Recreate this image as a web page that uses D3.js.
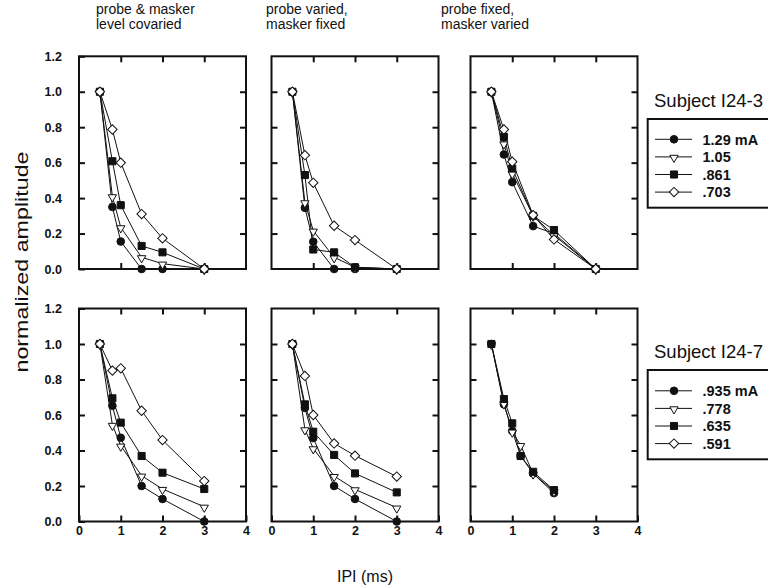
<!DOCTYPE html>
<html><head><meta charset="utf-8">
<script src="https://cdn.jsdelivr.net/npm/d3@7"></script>
<style>body{margin:0;background:#fff}svg{display:block}</style>
</head><body>
<script>
// ---------- data ----------
const ipiA = [0.5, 0.8, 1.0, 1.5, 2.0, 3.0];
const ipiB = [0.5, 0.8, 1.0, 1.2, 1.5, 2.0];
const yTicks = [0, 0.2, 0.4, 0.6, 0.8, 1.0, 1.2];
const xTicks = [0, 1, 2, 3, 4];
const panelTitles = [["probe & masker", "level covaried"], ["probe varied,", "masker fixed"], ["probe fixed,", "masker varied"]];
const subjects = ["Subject I24-3", "Subject I24-7"];
const legendI243 = ["1.29 mA", "1.05", ".861", ".703"];
const legendI247 = [".935 mA", ".778", ".635", ".591"];
// series order: circle, triangle, square, diamond
const i243Covaried = [
  [1.0, 0.35, 0.155, 0.0, 0.0, 0.0],
  [1.0, 0.41, 0.235, 0.066, 0.03, 0.0],
  [1.0, 0.608, 0.36, 0.13, 0.094, 0.0],
  [1.0, 0.787, 0.60, 0.31, 0.173, 0.0]];
const i243ProbeVaried = [
  [1.0, 0.345, 0.154, 0.0, 0.0, 0.0],
  [1.0, 0.376, 0.216, 0.066, 0.01, 0.0],
  [1.0, 0.53, 0.11, 0.094, 0.01, 0.0],
  [1.0, 0.642, 0.486, 0.244, 0.163, 0.0]];
const i243MaskerVaried = [
  [1.0, 0.646, 0.49, 0.242, 0.20, 0.0],
  [1.0, 0.708, 0.54, 0.30, 0.19, 0.0],
  [1.0, 0.745, 0.567, 0.30, 0.22, 0.0],
  [1.0, 0.787, 0.605, 0.304, 0.167, 0.0]];
const i247Covaried = [
  [1.0, 0.652, 0.472, 0.2, 0.127, 0.0],
  [1.0, 0.544, 0.427, 0.258, 0.183, 0.083],
  [1.0, 0.694, 0.557, 0.369, 0.275, 0.183],
  [1.0, 0.85, 0.863, 0.624, 0.459, 0.228]];
const i247ProbeVaried = [
  [1.0, 0.64, 0.47, 0.2, 0.127, 0.0],
  [1.0, 0.519, 0.412, 0.256, 0.181, 0.078],
  [1.0, 0.66, 0.506, 0.375, 0.271, 0.164],
  [1.0, 0.82, 0.6, 0.44, 0.371, 0.253]];
const i247MaskerVaried = [
  [1.0, 0.66, 0.51, 0.37, 0.27, 0.16],
  [1.0, 0.665, 0.506, 0.43, 0.27, 0.17],
  [1.0, 0.69, 0.553, 0.369, 0.28, 0.177],
  []];

// ---------- layout ----------
const W = 768, H = 588, INK = "#111";
const FONT = "'Liberation Sans', Arial, Helvetica, sans-serif";
const cols = [[79, 246], [271.5, 438.5], [470.5, 637.5]];
const rows = [[269, 56.3], [521.5, 308.5]];
const panels = [
  [{x: ipiA, s: i243Covaried}, {x: ipiA, s: i243ProbeVaried}, {x: ipiA, s: i243MaskerVaried}],
  [{x: ipiA, s: i247Covaried}, {x: ipiA, s: i247ProbeVaried}, {x: ipiB, s: i247MaskerVaried}]];

const svg = d3.select("body").append("svg").attr("width", W).attr("height", H)
  .style("font-family", FONT);

const sym = [
  {type: d3.symbolCircle, size: 46, fill: INK, rot: 0},
  {type: d3.symbolTriangle, size: 30, fill: "#fff", rot: 180},
  {type: d3.symbolSquare, size: 50, fill: INK, rot: 0},
  {type: d3.symbolSquare, size: 44, fill: "#fff", rot: 45}];
function marker(g, k, cx, cy) {
  const m = sym[k];
  g.append("path").attr("d", d3.symbol().type(m.type).size(m.size)())
    .attr("transform", `translate(${cx},${cy}) rotate(${m.rot})${k === 1 ? " translate(0,-0.8)" : ""}`)
    .attr("fill", m.fill).attr("stroke", INK).attr("stroke-width", 1);
}

function styleAxis(g) {
  g.select(".domain").remove();
  g.selectAll(".tick line").attr("stroke", INK).attr("stroke-width", 2);
  g.selectAll("text").attr("fill", INK).style("font-size", "12.5px").style("font-weight", "bold")
    .style("font-family", FONT);
}

rows.forEach((rr, r) => {
  cols.forEach((cc, c) => {
    const x = d3.scaleLinear().domain([0, 4]).range(cc);
    const y = d3.scaleLinear().domain([0, 1.2]).range(rr);
    const g = svg.append("g");
    const inner = yTicks.filter(v => v > 0 && v < 1.2);
    g.append("g").attr("transform", `translate(${cc[0]},0)`)
      .call(d3.axisLeft(y).tickValues(c === 0 ? yTicks : inner).tickSize(-6).tickPadding(17)
        .tickFormat(c === 0 ? d3.format(".1f") : () => "")).call(styleAxis);
    g.append("g").attr("transform", `translate(${cc[1]},0)`)
      .call(d3.axisRight(y).tickValues(inner).tickSize(-6).tickFormat(() => "")).call(styleAxis);
    g.append("g").attr("transform", `translate(0,${rr[1]})`)
      .call(d3.axisTop(x).tickValues([1, 2, 3]).tickSize(-6).tickFormat(() => "")).call(styleAxis);
    g.append("g").attr("transform", `translate(0,${rr[0]})`)
      .call(d3.axisBottom(x).tickValues(r === 1 ? xTicks : [1, 2, 3]).tickSize(-6).tickPadding(5)
        .tickFormat(r === 1 ? d3.format("d") : () => "")).call(styleAxis);
    g.append("rect").attr("x", cc[0]).attr("y", rr[1]).attr("width", cc[1] - cc[0]).attr("height", rr[0] - rr[1])
      .attr("fill", "none").attr("stroke", INK).attr("stroke-width", 2);

    const p = panels[r][c];
    const line = d3.line().x(d => x(d[0])).y(d => y(d[1]));
    p.s.forEach(ser => {
      if (!ser.length) return;
      g.append("path").attr("d", line(ser.map((v, i) => [p.x[i], v])))
        .attr("fill", "none").attr("stroke", INK).attr("stroke-width", 1);
    });
    p.s.forEach((ser, k) => {
      ser.forEach((v, i) => marker(g, k, x(p.x[i]), y(v)));
    });
  });
});

// panel titles
const titleX = [96, 266, 441];
panelTitles.forEach((t, i) => {
  t.forEach((line, j) => {
    svg.append("text").attr("x", titleX[i]).attr("y", 13.5 + j * 15.8).text(line)
      .style("font-size", "14px").attr("fill", INK);
  });
});

// axis labels
svg.append("text").attr("transform", "translate(28,262) rotate(-90)").attr("text-anchor", "middle")
  .attr("textLength", 221).attr("lengthAdjust", "spacingAndGlyphs")
  .style("font-size", "18px").attr("fill", INK).text("normalized amplitude");
svg.append("text").attr("x", 365).attr("y", 582).attr("text-anchor", "middle")
  .style("font-size", "16px").attr("fill", INK).text("IPI (ms)");

// legends
const legends = [
  {title: subjects[0], labels: legendI243, ty: 106.7, box: [119, 207.7], rowY: 139.3},
  {title: subjects[1], labels: legendI247, ty: 357.7, box: [370, 459.3], rowY: 390.8}];
legends.forEach(L => {
  svg.append("text").attr("x", 654).attr("y", L.ty).style("font-size", "18.5px").attr("fill", INK).text(L.title);
  svg.append("rect").attr("x", 647.7).attr("y", L.box[0]).attr("width", 140).attr("height", L.box[1] - L.box[0])
    .attr("fill", "none").attr("stroke", INK).attr("stroke-width", 2);
  L.labels.forEach((lab, k) => {
    const yy = L.rowY + k * 17.6;
    svg.append("line").attr("x1", 655).attr("x2", 692).attr("y1", yy).attr("y2", yy)
      .attr("stroke", INK).attr("stroke-width", 1);
    marker(svg, k, 674, yy);
    svg.append("text").attr("x", 702.5).attr("y", yy + 5.2).style("font-size", "14.5px")
      .style("font-weight", "bold").attr("fill", INK).text(lab);
  });
});
</script>
</body></html>
